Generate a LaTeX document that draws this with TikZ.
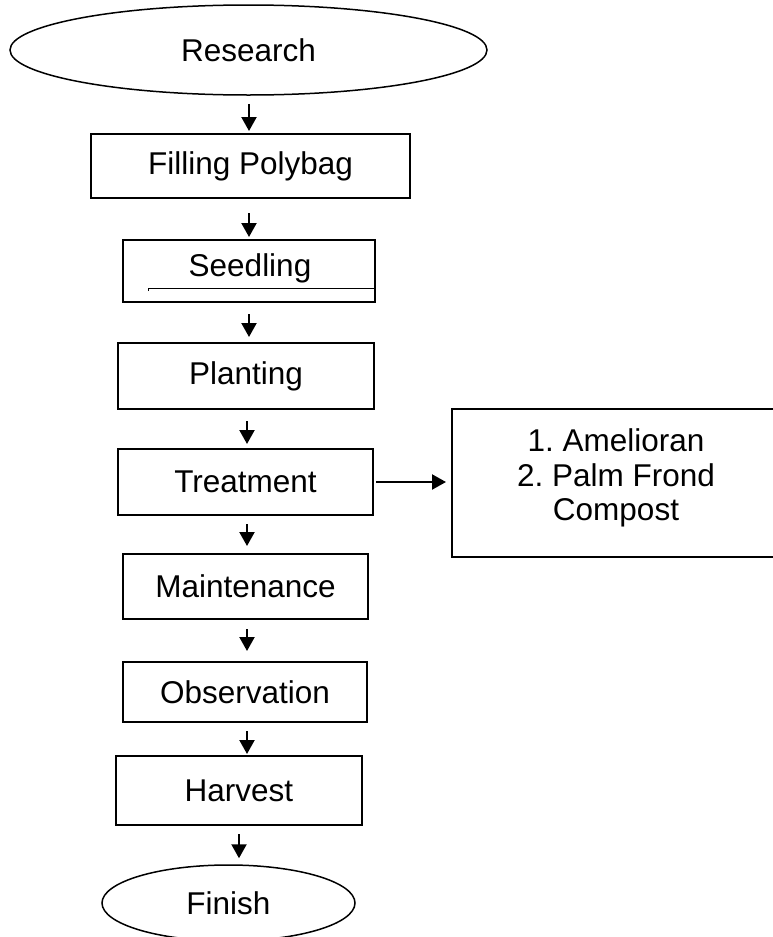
\documentclass[tikz,border=0pt]{standalone}
\usepackage{fontspec}
\setmainfont{Liberation Sans}
\usetikzlibrary{shapes.geometric,arrows.meta}
\begin{document}
\frenchspacing
\begin{tikzpicture}[x=1pt,y=-1pt,
  every node/.style={font=\fontsize{31.5}{34.5}\selectfont, inner sep=0pt},
  stepbox/.style={draw, line width=2pt, rectangle},
  termin/.style={draw, line width=1.5pt, ellipse},
  arr/.style={line width=2.2pt, -{Triangle[length=14pt,width=15pt]}}]
\useasboundingbox (0,0) rectangle (773,937);
\fill[white] (0,0) rectangle (773,937);
% nodes
\node[termin, minimum width=477pt, minimum height=90pt] (research) at (248.5,50) {Research};
\node[stepbox, minimum width=319pt, minimum height=64pt] (filling) at (250.5,166) {Filling Polybag};
\node[stepbox, minimum width=252pt, minimum height=62pt] (seedling) at (249,271) {};
\node at (250,268) (seedlingtxt) {Seedling};
\node[stepbox, minimum width=256pt, minimum height=66pt] (planting) at (246,376) {Planting};
\node[stepbox, minimum width=255pt, minimum height=66pt] (treatment) at (245.5,482) {Treatment};
\node[stepbox, minimum width=245pt, minimum height=65pt] (maint) at (245.5,586.5) {Maintenance};
\node[stepbox, minimum width=244pt, minimum height=60pt] (obs) at (245,692) {Observation};
\node[stepbox, minimum width=246pt, minimum height=69pt] (harvest) at (239,790.5) {Harvest};
\node[termin, minimum width=253pt, minimum height=76pt] (finish) at (228.5,903) {Finish};
\node[stepbox, minimum width=326pt, minimum height=148pt] (opts) at (615,483) {};
\node[align=center] (optstxt) at (616,478) {1. Amelioran\\2. Palm Frond\\Compost};
% stray line inside the Seedling box
\coordinate (s1) at (148,291);
\coordinate (s2) at (148,288);
\coordinate (s3) at (374,288);
\coordinate (s4) at (374,300);
\draw[line width=1pt] (s1) -- (s2) -- (s3) -- (s4);
% connectors
\draw[arr, shorten <=8pt, shorten >=2pt] ([xshift=0.5pt]research.south) -- ([xshift=-1.5pt]filling.north);
\draw[arr, shorten <=14pt, shorten >=2pt] ([xshift=-1.5pt]filling.south) -- ([xshift=0pt]seedling.north);
\draw[arr, shorten <=11pt, shorten >=5pt] ([xshift=0pt]seedling.south) -- ([xshift=3pt]planting.north);
\draw[arr, shorten <=11pt, shorten >=4pt] ([xshift=1pt]planting.south) -- ([xshift=1.5pt]treatment.north);
\draw[arr, shorten <=8pt, shorten >=7pt] ([xshift=1.5pt]treatment.south) -- ([xshift=1.5pt]maint.north);
\draw[arr, shorten <=9pt, shorten >=10pt] ([xshift=1.5pt]maint.south) -- ([xshift=2pt]obs.north);
\draw[arr, shorten <=8pt, shorten >=1pt] ([xshift=2pt]obs.south) -- ([xshift=8pt]harvest.north);
\draw[arr, shorten <=8pt, shorten >=6pt] ([xshift=0pt]harvest.south) -- ([xshift=10.5pt]finish.north);
\draw[arr, shorten <=2pt, shorten >=5pt] (treatment.east) -- (treatment.east -| opts.west);
\end{tikzpicture}
\end{document}
